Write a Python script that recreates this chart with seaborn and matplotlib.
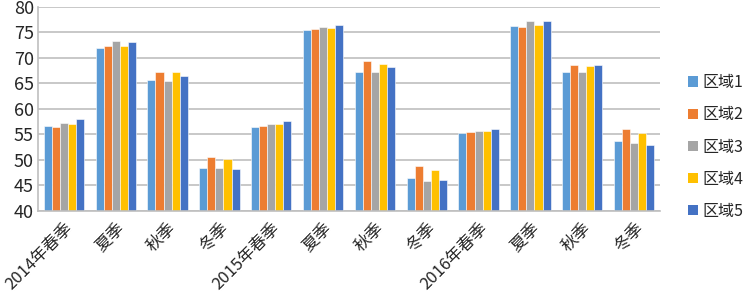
import numpy as np
import pandas as pd
import matplotlib
matplotlib.use("Agg")
import matplotlib.pyplot as plt
import seaborn as sns
from matplotlib.patches import Patch

periods = ["2014年春季", "夏季", "秋季", "冬季",
           "2015年春季", "夏季", "秋季", "冬季",
           "2016年春季", "夏季", "秋季", "冬季"]
regions = ["区域1", "区域2", "区域3", "区域4", "区域5"]

region1 = [56.7, 72.0, 65.6, 48.5, 56.5, 75.4, 67.3, 46.4, 55.3, 76.3, 67.3, 53.8]
region2 = [56.4, 72.3, 67.2, 50.5, 56.6, 75.6, 69.4, 48.8, 55.5, 76.1, 68.6, 56.0]
region3 = [57.2, 73.3, 65.5, 48.4, 57.0, 76.1, 67.3, 45.8, 55.7, 77.3, 67.3, 53.3]
region4 = [57.0, 72.3, 67.3, 50.1, 57.0, 75.9, 68.8, 48.0, 55.7, 76.4, 68.4, 55.3]
region5 = [58.1, 73.2, 66.5, 48.2, 57.6, 76.4, 68.3, 46.1, 56.1, 77.3, 68.6, 52.9]

colors = ["#5B9BD5", "#ED7D31", "#A5A5A5", "#FFC000", "#4472C4"]

series = [region1, region2, region3, region4, region5]
rows = []
for r, vals in zip(regions, series):
    for i, v in enumerate(vals):
        rows.append({"idx": i, "region": r, "value": v})
df = pd.DataFrame(rows)

sns.set_style("white")
plt.rcParams["font.family"] = ["Noto Sans CJK SC", "DejaVu Sans"]

fig = plt.figure(figsize=(7.48, 2.97), dpi=100)
ax = fig.add_axes([38 / 748, 1 - 211 / 297, (660 - 38) / 748, (211 - 7) / 297])

sns.barplot(data=df, x="idx", y="value", hue="region", hue_order=regions,
            palette=colors, saturation=1, width=0.78, gap=0, ax=ax, legend=False,
            edgecolor="white", linewidth=0.4, errorbar=None)

ax.set_ylim(40, 80)
ax.set_xlim(-0.5, 11.5)
ax.set_yticks(np.arange(40, 81, 5))
ax.tick_params(axis="y", labelsize=13, length=0, pad=3)
ax.set_axisbelow(True)
ax.yaxis.grid(True, color="#BFBFBF", linewidth=1.2)
ax.xaxis.grid(False)

ax.set_xticks(range(12))
ax.set_xticklabels(periods, rotation=45, ha="right", rotation_mode="anchor", fontsize=12)
ax.tick_params(axis="x", length=0, pad=6)
ax.set_xticks(np.arange(-0.5, 12, 1), minor=True)
ax.tick_params(axis="x", which="minor", length=5, color="#BFBFBF", width=1)

ax.set_xlabel("")
ax.set_ylabel("")
for s in ["top", "right"]:
    ax.spines[s].set_visible(False)
ax.spines["left"].set_color("#BFBFBF")
ax.spines["bottom"].set_color("#BFBFBF")
ax.spines["left"].set_linewidth(1.2)
ax.spines["bottom"].set_linewidth(1.2)

handles = [Patch(facecolor=c, edgecolor="none") for c in colors]
fig.legend(handles, regions, loc="center left", bbox_to_anchor=(688 / 748, 1 - 147 / 297),
           frameon=False, fontsize=11.5, handlelength=0.6, handleheight=0.6,
           handletextpad=0.3, labelspacing=0.95, borderaxespad=0, borderpad=0)

fig.savefig("out.png", dpi=100)
